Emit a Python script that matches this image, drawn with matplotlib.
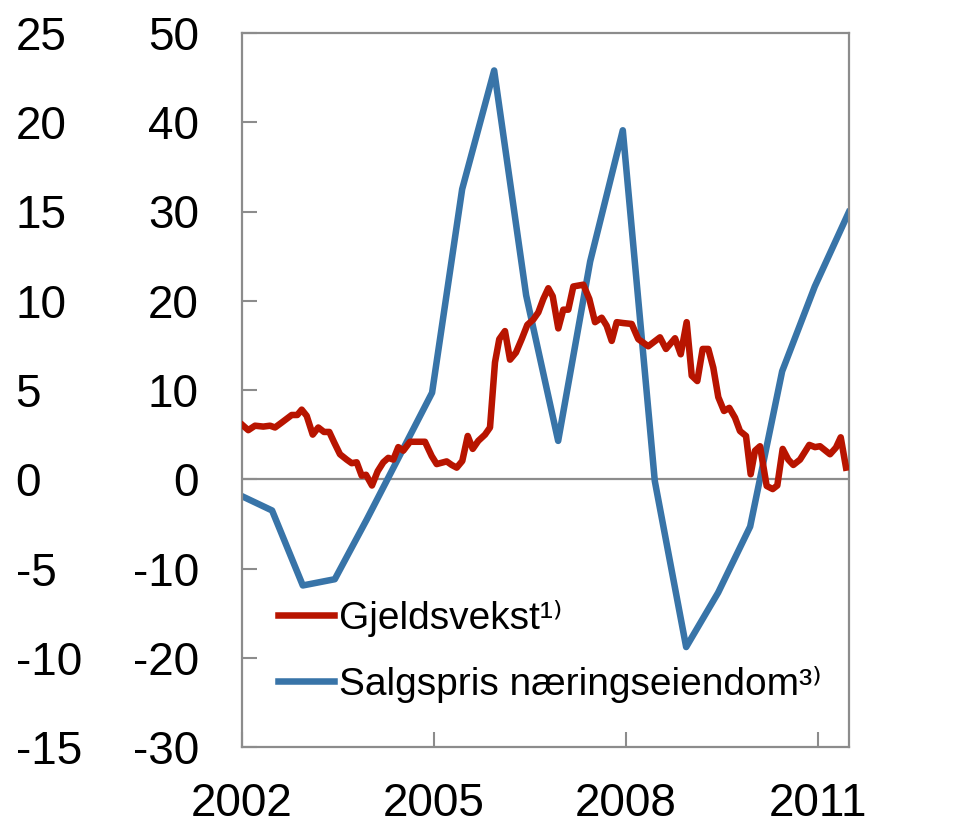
"""
Gjeldsvekst og salgspris for næringseiendom, 2002-2011.
"""

import matplotlib
matplotlib.use("Agg")
import matplotlib.pyplot as plt

plt.rcParams["font.family"] = ["Liberation Sans", "DejaVu Sans"]
plt.rcParams["axes.unicode_minus"] = False

RED = "#B81400"
BLUE = "#3874A8"
GREY = "#8C8C8C"

DEBT_LABEL = "Gjeldsvekst\u00b9\u207e"
PRICE_LABEL = "Salgspris næringseiendom\u00b3\u207e"

# Gjeldsvekst (inner left scale)
debt_dates = [
    2002.011, 2002.098, 2002.203, 2002.333, 2002.438, 2002.516, 2002.620,
    2002.777, 2002.864, 2002.933, 2003.011, 2003.105, 2003.192, 2003.281,
    2003.364, 2003.442, 2003.531, 2003.636, 2003.714, 2003.792, 2003.870,
    2003.938, 2004.031, 2004.120, 2004.208, 2004.286, 2004.364, 2004.442,
    2004.520, 2004.625, 2004.730, 2004.859, 2004.964, 2005.042, 2005.198,
    2005.277, 2005.355, 2005.442, 2005.527, 2005.605, 2005.692, 2005.797,
    2005.875, 2005.953, 2006.020, 2006.109, 2006.188, 2006.281, 2006.370,
    2006.458, 2006.552, 2006.630, 2006.708, 2006.786, 2006.855, 2006.942,
    2007.020, 2007.098, 2007.177, 2007.255, 2007.333, 2007.427, 2007.516,
    2007.620, 2007.698, 2007.777, 2007.855, 2007.958, 2008.089, 2008.192,
    2008.348, 2008.531, 2008.625, 2008.766, 2008.855, 2008.948, 2009.027,
    2009.114, 2009.198, 2009.286, 2009.364, 2009.442, 2009.531, 2009.614,
    2009.703, 2009.781, 2009.875, 2009.948, 2010.016, 2010.094, 2010.198,
    2010.292, 2010.364, 2010.448, 2010.536, 2010.614, 2010.719, 2010.864,
    2010.953, 2011.031, 2011.188, 2011.281, 2011.355, 2011.438,
]
debt_values = [
    6.05, 5.5, 6.0, 5.9, 6.0, 5.8, 6.35,
    7.2, 7.2, 7.8, 7.1, 5.0, 5.8, 5.3,
    5.3, 4.1, 2.8, 2.2, 1.8, 1.9, 0.4,
    0.5, -0.7, 0.9, 1.9, 2.4, 2.2, 3.6,
    3.2, 4.2, 4.2, 4.2, 2.6, 1.7, 2.0,
    1.6, 1.3, 2.05, 4.85, 3.4, 4.3, 5.0,
    5.8, 13.1, 15.7, 16.6, 13.4, 14.2, 15.7,
    17.3, 17.9, 18.7, 20.2, 21.4, 20.5, 16.9,
    19.0, 19.0, 21.6, 21.7, 21.8, 20.2, 17.6,
    18.1, 17.2, 15.5, 17.6, 17.5, 17.4, 15.7,
    14.9, 15.9, 14.6, 15.8, 14.0, 17.6, 11.6,
    11.0, 14.6, 14.6, 12.5, 9.2, 7.65, 8.0,
    6.9, 5.4, 4.85, 0.56, 3.2, 3.7, -0.75,
    -1.1, -0.7, 3.4, 2.2, 1.6, 2.2, 3.85,
    3.6, 3.7, 2.8, 3.55, 4.7, 1.3,
]

# Salgspris næringseiendom (half-yearly)
price_dates = [
    2002.00, 2002.47, 2002.95, 2003.45, 2003.95, 2004.97, 2005.44,
    2005.94, 2006.44, 2006.94, 2007.44, 2007.95, 2008.45, 2008.94,
    2009.44, 2009.94, 2010.44, 2010.95, 2011.48,
]
price_values = [
    -1.9, -3.5, -11.9, -11.2, -4.5, 9.7, 32.5,
    45.8, 20.6, 4.3, 24.4, 39.1, -0.2, -18.8,
    -12.7, -5.3, 12.1, 21.6, 29.9,
]

X_TICKS = [2002, 2005, 2008, 2011]
INNER_TICKS = list(range(-30, 51, 10))
OUTER_TICKS = list(range(-15, 26, 5))

FONT_SIZE = 33


def main() -> None:
    fig = plt.figure(figsize=(9.61, 8.26), dpi=100)
    ax = fig.add_axes([242 / 961, 1 - 747 / 826, 607 / 961, 714 / 826])

    ax.axhline(0, color=GREY, lw=1.6, zorder=1)
    debt_line, = ax.plot(debt_dates, debt_values, color=RED, lw=4.7,
                         solid_joinstyle="round", zorder=3)
    price_line, = ax.plot(price_dates, price_values, color=BLUE, lw=4.7,
                          solid_joinstyle="round", zorder=2)

    ax.set_xlim(2002, 2002 + 607 / 64)
    ax.set_ylim(-30, 50)
    ax.set_xticks(X_TICKS)
    ax.set_yticks(INNER_TICKS)
    for spine in ax.spines.values():
        spine.set_color(GREY)
        spine.set_linewidth(1.6)
    ax.tick_params(axis="both", direction="in", length=10.5, width=1.5,
                   color=GREY, labelsize=FONT_SIZE)
    ax.tick_params(axis="y", right=True, labelright=True, pad=31)
    ax.tick_params(axis="x", pad=25)

    # outer left scale
    outer = ax.twinx()
    outer.set_ylim(-15, 25)
    outer.set_yticks(OUTER_TICKS)
    outer.yaxis.tick_left()
    outer.tick_params(axis="y", length=0, pad=163, labelsize=FONT_SIZE)
    for lbl in outer.get_yticklabels():
        lbl.set_horizontalalignment("left")
    for spine in outer.spines.values():
        spine.set_visible(False)

    outer.legend(
        [debt_line, price_line],
        [DEBT_LABEL, PRICE_LABEL],
        loc="center left",
        bbox_to_anchor=(0.059, 0.134),
        frameon=False,
        fontsize=28,
        borderpad=0,
        borderaxespad=0,
        handlelength=1.45,
        handletextpad=0.12,
        labelspacing=0.75,
    )

    fig.savefig("out.png", dpi=100)


if __name__ == "__main__":
    main()
